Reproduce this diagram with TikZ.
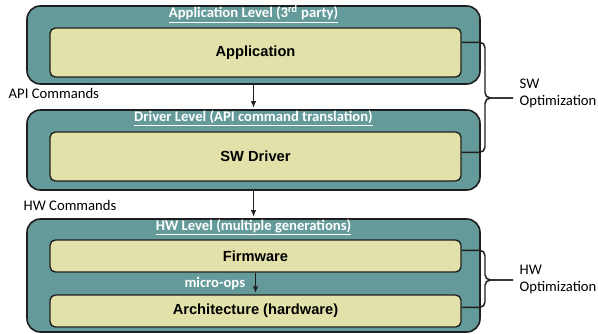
\documentclass[tikz,border=0pt]{standalone}
\usepackage{fontspec}
\setmainfont{Carlito}
\newfontfamily\arialfont{Liberation Sans}
\usetikzlibrary{arrows.meta,calc}
\definecolor{ink}{HTML}{1E1E1E}
\definecolor{levelteal}{HTML}{649A99}
\definecolor{boxcream}{HTML}{E2E1A9}

\begin{document}
\begin{tikzpicture}[x=0.75pt,y=-0.75pt]
    \tikzset{
      level/.style={rounded corners=10pt,draw=ink,fill=levelteal,line width=1.2pt,minimum width=339.75pt},
      block/.style={rounded corners=4pt,draw=ink,fill=boxcream,line width=1pt,minimum width=308.25pt,font=\arialfont\bfseries\fontsize{11}{13}\selectfont},
      title/.style={text=white,font=\bfseries\fontsize{11}{13}\selectfont},
      note/.style={align=left,font=\fontsize{11}{12.75}\selectfont},
      arrow/.style={-{Latex[length=5pt,width=4pt]},draw=ink,line width=0.9pt,shorten >=1pt},
      optbrace/.style={draw=ink,line width=1.1pt,rounded corners=4pt}
    }
    \useasboundingbox (0,0) rectangle (598,334);
    % application level
    \node[level,minimum height=58.5pt] (applevel) at (253.5,45) {};
    \node[block,minimum height=36.75pt] (app) at (255.5,52.5) {Application};
    \node[title] (apptitle) at ($(applevel.north)+(0,9)$) {\underline{Application Level (3\textsuperscript{rd} party)}};
    % driver level
    \node[level,minimum height=60pt] (drvlevel) at (253.5,150) {};
    \node[block,minimum height=36.75pt] (drv) at (255.5,156.5) {SW Driver};
    \node[title] (drvtitle) at ($(drvlevel.north)+(0,9)$) {\underline{Driver Level (API command translation)}};
    % hw level
    \node[level,minimum height=84.75pt] (hwlevel) at (253.5,275.5) {};
    \node[block,minimum height=24pt] (fw) at (255.5,256) {Firmware};
    \node[block,minimum height=24pt] (arch) at (255.5,311) {Architecture (hardware)};
    \node[title] (hwtitle) at ($(hwlevel.north)+(0,9)$) {\underline{HW Level (multiple generations)}};
    \node[note,anchor=west] (apicmd) at (4,93) {API Commands};
    \node[note,anchor=west] (hwcmd) at (19,205) {HW Commands};
    \draw[arrow] (applevel) -- (drvlevel);
    \draw[arrow] (drvlevel) -- (hwlevel);
    \draw[arrow] (fw) -- node[title,left=4pt] {micro-ops} (arch);
    % optimization braces
    \coordinate (swtip) at (513,98);
    \coordinate (hwtip) at (513,280);
    \draw[optbrace] ($(app.north east)+(0,15)$) -| (485,98) -- (swtip);
    \draw[optbrace] ($(drv.north east)+(0,21)$) -| (485,98) -- (swtip);
    \draw[optbrace] ($(fw.north east)+(0,11)$) -| (485,280) -- (hwtip);
    \draw[optbrace] ($(arch.north east)+(0,13)$) -| (485,280) -- (hwtip);
    \node[note,anchor=west] (swopt) at (515,93.5) {SW\\Optimization};
    \node[note,anchor=west] (hwopt) at (515,279) {HW\\Optimization};
  \end{tikzpicture}
\end{document}
